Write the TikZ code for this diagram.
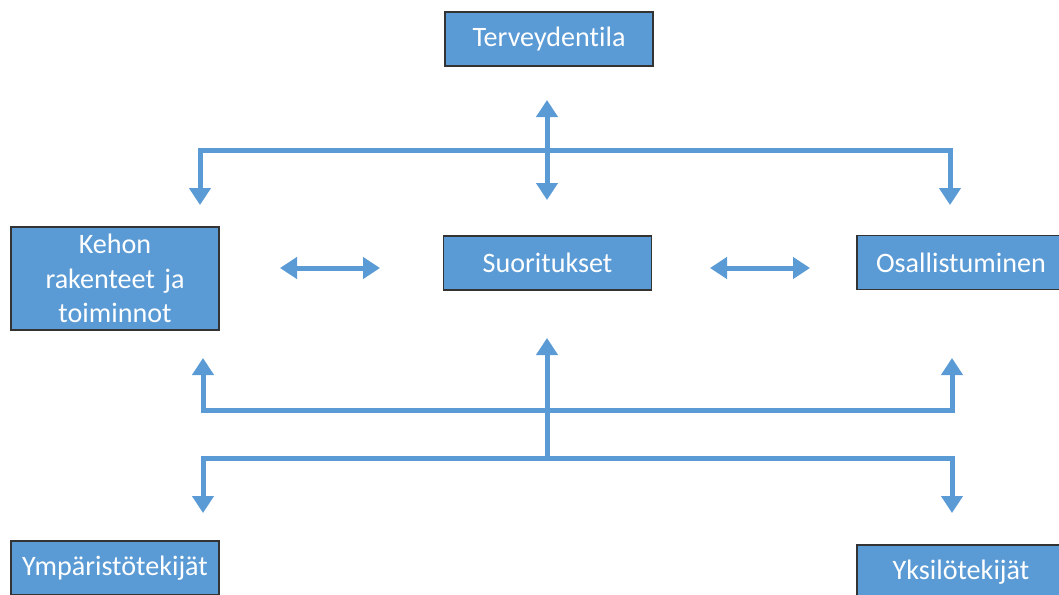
\documentclass[tikz,border=0pt]{standalone}
\usepackage{fontspec}
\setmainfont{Carlito}[Ligatures=NoCommon]
\usepackage{tikz}
\usetikzlibrary{arrows.meta,positioning,calc}
\definecolor{icfblue}{HTML}{5B9BD5}

\begin{document}
\begin{tikzpicture}[
    box/.style={draw=black!80, line width=0.8pt, fill=icfblue, text=white, font=\fontsize{16}{19.5}\selectfont, minimum width=4.16cm, minimum height=1.08cm, align=center, inner sep=2pt},
    conn/.style={draw=icfblue, line width=0.1cm},
    arr/.style={conn, -{Triangle[width=0.42cm,length=0.34cm]}},
    darr/.style={conn, {Triangle[width=0.42cm,length=0.34cm]}-{Triangle[width=0.42cm,length=0.34cm]}}
]
\useasboundingbox (0,0) rectangle (21.18,-11.88);

\node[box] (terv) at (10.98,-0.78) {Terveydentila};
\node[box, minimum height=2.06cm, text width=3.9cm] (kehon) at (2.30,-5.57) {Kehon\\rakenteet ja\\toiminnot};
\node[box] (suor) at (10.95,-5.26) {Suoritukset};
\node[box] (osal) at (19.22,-5.25) {Osallistuminen};
\node[box] (ymp) at (2.30,-11.36) {Ympäristötekijät};
\node[box] (yksi) at (19.22,-11.44) {Yksilötekijät};

% ylaosa
\coordinate (tervin) at (10.94,-2.0);
\coordinate (suorin) at (10.94,-4.0);
\coordinate (topbar) at (10.94,-3.0);
\coordinate (kehin) at (4.0,-4.1);
\coordinate (osalin) at (19.0,-4.1);
\draw[darr] (tervin) -- (suorin);
\draw[arr] (topbar) -| (kehin);
\draw[arr] (topbar) -| (osalin);

% keskirivi
\coordinate (k1) at (5.6,-5.36);
\coordinate (k2) at (7.6,-5.36);
\coordinate (o1) at (14.2,-5.36);
\coordinate (o2) at (16.2,-5.36);
\draw[darr] (k1) -- (k2);
\draw[darr] (o1) -- (o2);

% alaosa
\coordinate (midbar) at (10.94,-8.2);
\coordinate (botbar) at (10.94,-9.16);
\coordinate (suorout) at (10.94,-6.76);
\coordinate (kehout) at (4.06,-7.16);
\coordinate (osalout) at (19.04,-7.16);
\coordinate (ympin) at (4.06,-10.26);
\coordinate (yksiin) at (19.04,-10.26);
\draw[arr] (botbar) -- (suorout);
\draw[arr] (midbar) -| (kehout);
\draw[arr] (midbar) -| (osalout);
\draw[arr] (botbar) -| (ympin);
\draw[arr] (botbar) -| (yksiin);
\end{tikzpicture}
\end{document}
